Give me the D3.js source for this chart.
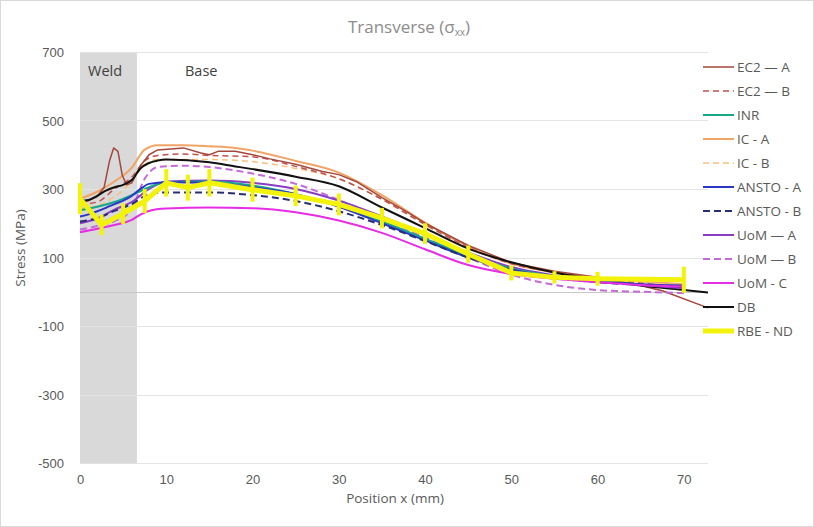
<!DOCTYPE html>
<html>
<head>
<meta charset="utf-8">
<script src="https://cdn.jsdelivr.net/npm/d3@7"></script>
<style>
  html, body { margin: 0; padding: 0; background: #fff; }
  svg { display: block; font-family: "Open Sans", "Liberation Sans", sans-serif; }
</style>
</head>
<body>
<svg id="chart" width="814" height="527"></svg>
<script>
// Transverse residual stress profiles across the weld (position in mm, stress in MPa)
const xTicks = [0, 10, 20, 30, 40, 50, 60, 70];
const yTicks = [-500, -300, -100, 100, 300, 500, 700];
const weldZone = [0, 6.6];

const ec2A = [[0,262],[1,266],[2,278],[2.8,305],[3.4,380],[3.9,420],[4.4,410],[4.9,340],[5.4,312],[6,318],[7,368],[8,400],[9,414],[12,420],[14,405],[15,400],[16,410],[18,410],[20,400],[22,388],[25,372],[28,352],[30,342],[32,322],[35,275],[38,232],[40,200],[45,135],[50,85],[55,60],[60,42],[64,24],[67.5,3],[72.8,-47]];
const ec2B = [[0,255],[2,262],[4,300],[6,335],[7.5,382],[9,398],[12,402],[15,398],[20,394],[25,366],[30,330],[35,270],[40,196],[45,130],[50,82],[55,58],[60,40],[65,25],[70,12]];
const inr = [[0,238],[2,248],[4,262],[6,282],[8,305],[10,320],[15,322],[20,310],[25,285],[30,250],[35,205],[40,155],[45,105],[50,68],[55,45],[60,30],[65,22]];
const icA = [[0,272],[2,292],[4,322],[6,362],[7.5,415],[9,428],[12,428],[15,425],[18,420],[20,412],[25,382],[30,348],[35,282],[40,202],[45,132],[50,82],[55,56],[60,40],[65,30],[70,22]];
const icB = [[0,242],[3,262],[6,322],[7.5,372],[9,386],[15,386],[20,380],[25,360],[30,330],[35,270],[40,200],[45,135],[50,85],[55,58],[60,40],[65,28],[70,20]];
const anstoA = [[0,220],[1,226],[2,235],[3,245],[4,256],[5,266],[6,280],[7,300],[8,315],[10,320],[15,318],[20,305],[25,285],[30,248],[35,200],[40,150],[45,100],[50,65],[55,42],[60,30],[65,22],[70,18]];
const anstoB = [[0,205],[2,215],[4,236],[6,256],[8,285],[10,290],[15,290],[20,282],[25,265],[30,235],[35,195],[40,148],[45,100],[50,62],[55,40],[60,28],[65,20],[70,15]];
const uomA = [[0,200],[2,214],[4,240],[6,262],[8,300],[10,322],[15,325],[20,318],[25,300],[30,266],[35,220],[40,168],[45,115],[50,72],[55,48],[60,32],[65,20],[70,10]];
const uomB = [[0,182],[2,192],[4,206],[6,242],[7.5,330],[9,364],[12,368],[15,364],[20,345],[25,315],[30,268],[35,214],[40,158],[45,100],[50,50],[55,20],[60,5],[65,0],[70,-4]];
const uomC = [[0,174],[2,184],[4,195],[6,210],[7,225],[8,236],[10,243],[15,246],[20,244],[25,232],[30,208],[35,172],[40,124],[45,78],[50,52],[55,38],[60,28],[65,20],[70,15]];
const db = [[0,265],[1,268],[2,280],[3,295],[4,305],[5,312],[6,326],[7,360],[8,376],[9,383],[10,386],[15,378],[18,366],[20,358],[25,336],[30,308],[35,246],[40,186],[45,126],[50,86],[55,56],[60,36],[65,18],[70,5],[72.8,-2]];

// RBE - ND measurements with their error ranges
const rbeX   = [0, 2.5, 5, 7.5, 10, 12.5, 15, 20, 25, 30, 35, 40, 45, 50, 55, 60, 70];
const rbeY   = [272, 195, 228, 265, 318, 304, 318, 298, 280, 255, 215, 170, 110, 55, 42, 38, 35];
const rbeErr = [45, 30, 30, 35, 40, 38, 40, 35, 30, 32, 30, 30, 25, 22, 18, 20, 38];

const seriesNames = ["EC2 \u2014 A", "EC2 \u2014 B", "INR", "IC - A", "IC - B", "ANSTO - A", "ANSTO - B", "UoM \u2014 A", "UoM \u2014 B", "UoM - C", "DB", "RBE - ND"];

const styles = [
  { color: "#a4473d", width: 1.5, dash: null, curve: d3.curveLinear },
  { color: "#c0504d", width: 1.5, dash: "6,4", curve: d3.curveMonotoneX },
  { color: "#14a88a", width: 2, dash: null, curve: d3.curveMonotoneX },
  { color: "#f0a466", width: 2, dash: null, curve: d3.curveMonotoneX },
  { color: "#f6c27a", width: 1.5, dash: "6,4", curve: d3.curveMonotoneX },
  { color: "#2b36c8", width: 2, dash: null, curve: d3.curveMonotoneX },
  { color: "#263070", width: 2, dash: "7,4", curve: d3.curveMonotoneX },
  { color: "#8a3cc4", width: 2, dash: null, curve: d3.curveMonotoneX },
  { color: "#c46ad8", width: 2, dash: "7,4", curve: d3.curveMonotoneX },
  { color: "#e62ce6", width: 2, dash: null, curve: d3.curveMonotoneX },
  { color: "#111111", width: 2, dash: null, curve: d3.curveMonotoneX },
  { color: "#f2f20a", width: 5, dash: null, curve: d3.curveLinear }
];

const rbe = rbeX.map((x, i) => [x, rbeY[i]]);
const data = [ec2A, ec2B, inr, icA, icB, anstoA, anstoB, uomA, uomB, uomC, db, rbe];

const svg = d3.select("#chart");
const W = 814, H = 527;
const plot = { left: 80, right: 708, top: 52, bottom: 463 };

const x = d3.scaleLinear().domain([0, 72.8]).range([plot.left, plot.right]);
const y = d3.scaleLinear().domain([-500, 700]).range([plot.bottom, plot.top]);

// chart frame
svg.append("rect").attr("x", 0.5).attr("y", 0.5).attr("width", W - 1).attr("height", H - 1)
  .attr("fill", "#fff").attr("stroke", "#d9d9d9");

// weld zone band
svg.append("rect")
  .attr("x", x(weldZone[0])).attr("y", plot.top)
  .attr("width", x(weldZone[1]) - x(weldZone[0])).attr("height", plot.bottom - plot.top)
  .attr("fill", "#d9d9d9");

// horizontal gridlines
svg.append("g").selectAll("line").data(yTicks).join("line")
  .attr("x1", plot.left).attr("x2", plot.right)
  .attr("y1", d => Math.round(y(d)) + 0.5).attr("y2", d => Math.round(y(d)) + 0.5)
  .attr("stroke", "#e3e3e3").attr("stroke-width", 1);

// zero axis line
svg.append("line")
  .attr("x1", plot.left).attr("x2", plot.right)
  .attr("y1", Math.round(y(0)) + 0.5).attr("y2", Math.round(y(0)) + 0.5)
  .attr("stroke", "#c8c8c8").attr("stroke-width", 1);

// axes (labels only, Excel style)
const yAxis = d3.axisLeft(y).tickValues(yTicks).tickSize(0).tickPadding(0).tickFormat(d => String(d));
const gy = svg.append("g").attr("transform", `translate(${plot.left - 16},0)`).call(yAxis);
gy.select(".domain").remove();
gy.selectAll("text").attr("fill", "#595959").style("font-size", "13px").attr("dy", "0.35em");

const xAxis = d3.axisBottom(x).tickValues(xTicks).tickSize(0).tickPadding(0).tickFormat(d => String(d));
const gx = svg.append("g").attr("transform", `translate(0,${plot.bottom + 11})`).call(xAxis);
gx.select(".domain").remove();
gx.selectAll("text").attr("fill", "#595959").style("font-size", "13px").attr("dy", "0.8em");

// zone labels
svg.append("text").attr("x", 88).attr("y", 76).text("Weld")
  .attr("fill", "#404040").style("font-size", "14.5px");
svg.append("text").attr("x", 185).attr("y", 76).text("Base")
  .attr("fill", "#404040").style("font-size", "14.5px");

// series lines
const line = d3.line().x(d => x(d[0])).y(d => y(d[1]));
const order = [3, 4, 1, 0, 10, 8, 7, 2, 5, 6, 9, 11];
order.forEach(i => {
  const s = styles[i];
  svg.append("path")
    .datum(data[i])
    .attr("fill", "none")
    .attr("stroke", s.color)
    .attr("stroke-width", s.width)
    .attr("stroke-linejoin", "round")
    .attr("stroke-dasharray", s.dash)
    .attr("d", line.curve(s.curve)(data[i]));
});

// RBE - ND error bars
svg.append("g").selectAll("line").data(rbeX).join("line")
  .attr("x1", d => x(d)).attr("x2", d => x(d))
  .attr("y1", (d, i) => y(rbeY[i] + rbeErr[i]))
  .attr("y2", (d, i) => y(rbeY[i] - rbeErr[i]))
  .attr("stroke", "#f2f20a").attr("stroke-width", 4);

// legend
const legend = svg.append("g");
seriesNames.forEach((name, i) => {
  const s = styles[i];
  const ly = 67 + i * 24;
  legend.append("line")
    .attr("x1", 703).attr("x2", 734).attr("y1", ly).attr("y2", ly)
    .attr("stroke", s.color).attr("stroke-width", s.width)
    .attr("stroke-dasharray", s.dash);
  legend.append("text").attr("x", 737).attr("y", ly).attr("dy", "0.35em")
    .text(name).attr("fill", "#595959").style("font-size", "13.5px");
});

// titles
const title = svg.append("text").attr("x", 409).attr("y", 33).attr("text-anchor", "middle")
  .attr("fill", "#8c8c8c").style("font-size", "17px");
title.append("tspan").text("Transverse (\u03c3");
title.append("tspan").text("xx").style("font-size", "10px").attr("dy", 3);
title.append("tspan").text(")").attr("dy", -3);

svg.append("text").attr("x", 395).attr("y", 503).attr("text-anchor", "middle")
  .text("Position x (mm)").attr("fill", "#595959").style("font-size", "13.5px");

svg.append("text").attr("transform", "translate(25,248) rotate(-90)").attr("text-anchor", "middle")
  .text("Stress (MPa)").attr("fill", "#595959").style("font-size", "13.5px");
</script>
</body>
</html>
